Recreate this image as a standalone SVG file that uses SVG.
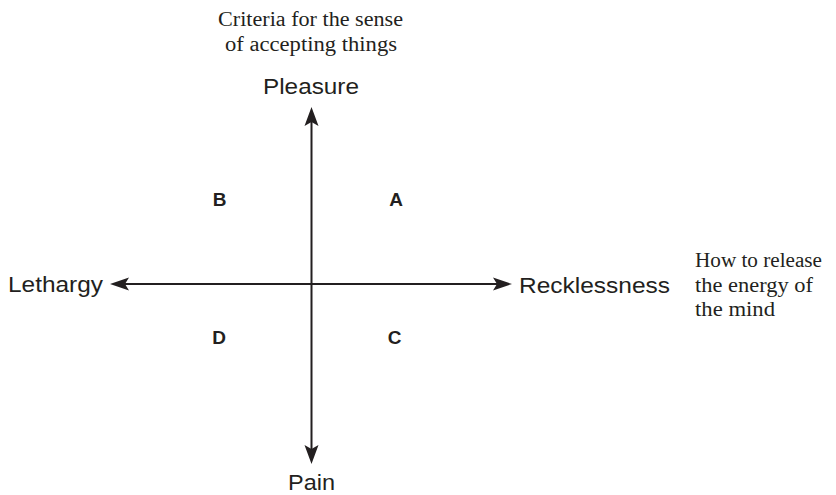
<svg xmlns="http://www.w3.org/2000/svg" width="836" height="495" viewBox="0 0 836 495">
<style>
.sans{font-family:"Liberation Sans",Arial,sans-serif;font-size:22px;fill:#231f20}
.bold{font-family:"Liberation Sans",Arial,sans-serif;font-size:19px;font-weight:bold;fill:#231f20}
.serif{font-family:"Liberation Serif","Times New Roman",serif;font-size:20.5px;fill:#231f20}
.axis{stroke:#231f20;stroke-width:2;fill:none}
.head{fill:#231f20;stroke:none}
</style>
<rect width="836" height="495" fill="#fff"/>
<g id="connectors">
<line class="axis" x1="120" y1="284" x2="503" y2="284"/>
<line class="axis" x1="311.5" y1="116" x2="311.5" y2="455"/>
<polygon class="head" points="110,284 129,277.5 125,284 129,290.5"/>
<polygon class="head" points="512,284 493,277.5 497,284 493,290.5"/>
<polygon class="head" points="311.5,107 318.5,126 311.5,122 304.5,126"/>
<polygon class="head" points="311.5,464 318.5,445 311.5,449 304.5,445"/>
</g>
<g id="criteria">
<text class="serif" x="218" y="26" textLength="185" lengthAdjust="spacingAndGlyphs">Criteria for the sense</text>
<text class="serif" x="225" y="51" textLength="172" lengthAdjust="spacingAndGlyphs">of accepting things</text>
</g>
<g id="pleasure"><text class="sans" x="263" y="94" textLength="96" lengthAdjust="spacingAndGlyphs">Pleasure</text></g>
<g id="pain"><text class="sans" x="288" y="490" textLength="47" lengthAdjust="spacingAndGlyphs">Pain</text></g>
<g id="lethargy"><text class="sans" x="8" y="292" textLength="95" lengthAdjust="spacingAndGlyphs">Lethargy</text></g>
<g id="recklessness"><text class="sans" x="519" y="293" textLength="151" lengthAdjust="spacingAndGlyphs">Recklessness</text></g>
<g id="release">
<text class="serif" x="695" y="267" textLength="127" lengthAdjust="spacingAndGlyphs">How to release</text>
<text class="serif" x="695" y="292" textLength="118" lengthAdjust="spacingAndGlyphs">the energy of</text>
<text class="serif" x="695" y="316" textLength="80" lengthAdjust="spacingAndGlyphs">the mind</text>
</g>
<g id="quadA"><text class="bold" x="396" y="206" text-anchor="middle">A</text></g>
<g id="quadB"><text class="bold" x="219.5" y="206" text-anchor="middle">B</text></g>
<g id="quadC"><text class="bold" x="394.5" y="344" text-anchor="middle">C</text></g>
<g id="quadD"><text class="bold" x="219" y="344" text-anchor="middle">D</text></g>
</svg>
